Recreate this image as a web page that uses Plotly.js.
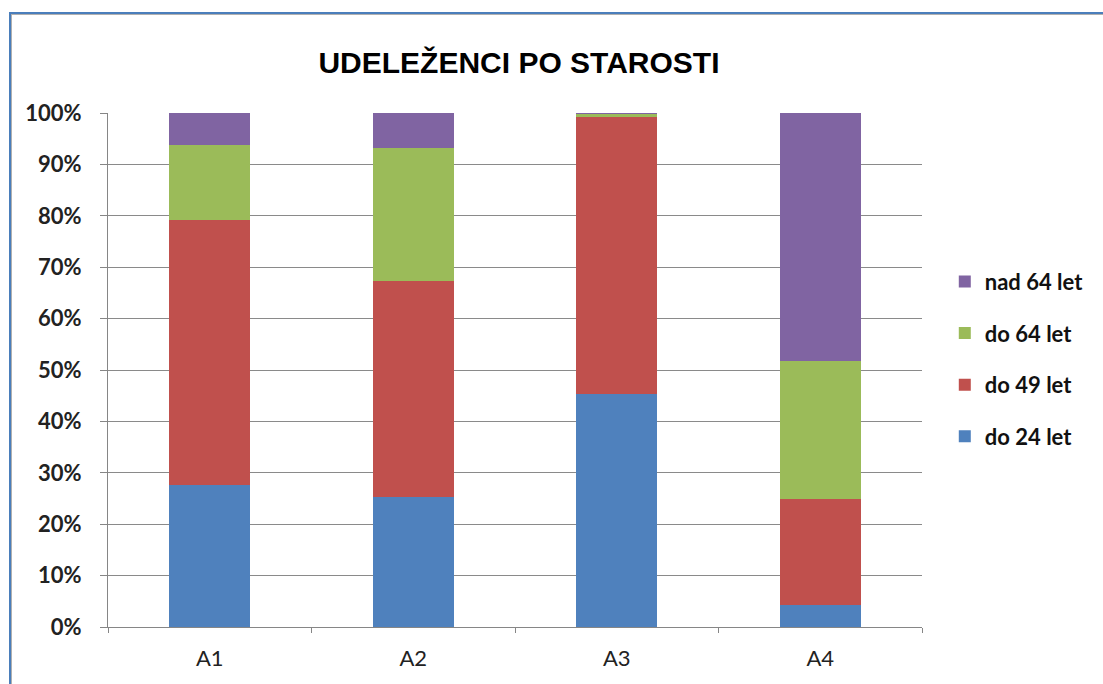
<!DOCTYPE html>
<html>
<head>
<meta charset="utf-8">
<script src="https://cdn.plot.ly/plotly-3.0.1.min.js"></script>
<style>
  html, body { margin: 0; padding: 0; background: #fff; }
  #frame { position: absolute; left: 9px; top: 12px; width: 1200px; height: 800px;
           border-left: 2px solid #4a7ebb; border-top: 2px solid #4a7ebb; }
  #inner { position: absolute; left: 11px; top: 14px; width: 1200px; height: 800px;
           border-left: 1px solid #b0b0b0; border-top: 1px solid #b0b0b0; }
  #chart { position: absolute; left: 0; top: 0; width: 1103px; height: 684px; }
</style>
</head>
<body>
<div id="frame"></div>
<div id="inner"></div>
<div id="chart"></div>
<script>
const categories = ["A1", "A2", "A3", "A4"];
const seriesNames = ["do 24 let", "do 49 let", "do 64 let", "nad 64 let"];
const do24 = [27.6, 25.3, 45.3, 4.3];
const do49 = [51.6, 42.0, 53.9, 20.6];
const do64 = [14.6, 25.9, 0.6, 26.9];
const nad64 = [6.2, 6.8, 0.2, 48.2];
const yTickVals = [0, 10, 20, 30, 40, 50, 60, 70, 80, 90, 100];
const yTickText = ["0%", "10%", "20%", "30%", "40%", "50%", "60%", "70%", "80%", "90%", "100%"];
const colors = ["#4f81bd", "#c0504d", "#9bbb59", "#8064a2"];

const values = [do24, do49, do64, nad64];
const traces = values.map((v, i) => ({
  type: "bar",
  x: categories,
  y: v,
  name: seriesNames[i],
  legendgroup: "g" + i,
  legendrank: 1000 - i,
  marker: { color: colors[i], line: { width: 0 } },
  hoverinfo: "x+y+name"
}));

const layout = {
  width: 1103,
  height: 684,
  barmode: "stack",
  bargap: 0.6,
  paper_bgcolor: "rgba(0,0,0,0)",
  plot_bgcolor: "rgba(0,0,0,0)",
  margin: { l: 108, r: 181, t: 113, b: 57 },
  title: {
    text: "<b>UDELEŽENCI PO STAROSTI</b>",
    font: { family: "Liberation Sans, Arial, sans-serif", size: 30, color: "#000" },
    x: 0.4705, xanchor: "center",
    y: 0.909, yanchor: "middle"
  },
  xaxis: {
    type: "category",
    tickson: "boundaries",
    ticks: "outside",
    ticklen: 5,
    tickcolor: "#868686",
    showline: true,
    linecolor: "#868686",
    linewidth: 1,
    showgrid: false,
    ticklabelstandoff: 12,
    tickfont: { family: "Lato, sans-serif", size: 22, color: "#222" },
    fixedrange: true
  },
  yaxis: {
    range: [0, 100],
    tickvals: yTickVals,
    ticktext: yTickText,
    ticks: "outside",
    ticklen: 7,
    tickcolor: "#868686",
    showline: true,
    linecolor: "#868686",
    linewidth: 1,
    showgrid: true,
    gridcolor: "#8a8a8a",
    gridwidth: 1,
    zeroline: false,
    ticklabelstandoff: 14,
    tickfont: { family: "Lato, sans-serif", size: 22, color: "#222", weight: "bold" },
    fixedrange: true
  },
  legend: {
    traceorder: "grouped",
    tracegroupgap: 20,
    x: 1.028, xanchor: "left",
    y: 0.521, yanchor: "middle",
    font: { family: "Lato, sans-serif", size: 22, color: "#111", weight: "bold" },
    itemwidth: 30,
    bgcolor: "rgba(0,0,0,0)"
  },
  showlegend: true
};

Plotly.newPlot("chart", traces, layout, { displayModeBar: false, staticPlot: true });
</script>
</body>
</html>
